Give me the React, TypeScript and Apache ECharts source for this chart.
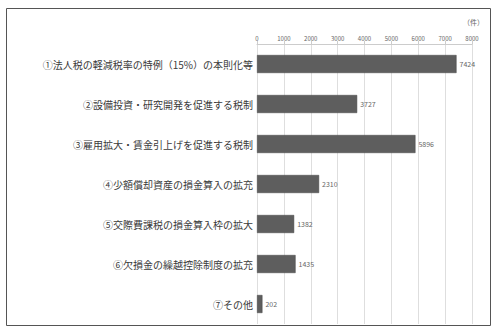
import React, { useEffect, useRef } from "react";
import * as echarts from "echarts";

const categories = [
  "①法人税の軽減税率の特例（15%）の本則化等",
  "②設備投資・研究開発を促進する税制",
  "③雇用拡大・賃金引上げを促進する税制",
  "④少額償却資産の損金算入の拡充",
  "⑤交際費課税の損金算入枠の拡大",
  "⑥欠損金の繰越控除制度の拡充",
  "⑦その他",
];
const values = [7424, 3727, 5896, 2310, 1382, 1435, 202];
const unitLabel = "（件）";

export default function App() {
  const ref = useRef<HTMLDivElement>(null);
  useEffect(() => {
    if (!ref.current) return;
    const chart = echarts.init(ref.current, null, { renderer: "svg" });
    const font = "'Noto Sans CJK JP', sans-serif";
    chart.setOption({
      animation: false,
      backgroundColor: "#ffffff",
      textStyle: { fontFamily: font },
      graphic: [
        {
          type: "rect",
          shape: { x: 6.5, y: 8.5, width: 484, height: 317 },
          style: { fill: "none", stroke: "#555", lineWidth: 1 },
        },
        {
          type: "text",
          left: 463,
          top: 18,
          style: { text: unitLabel, fontSize: 7, fill: "#666", fontFamily: font },
        },
      ],
      grid: { left: 257, top: 44, width: 215, height: 280, containLabel: false },
      xAxis: {
        type: "value",
        position: "top",
        min: 0,
        max: 8000,
        interval: 1000,
        axisLine: { show: true, lineStyle: { color: "#ccc" } },
        axisTick: { show: true, length: 3, lineStyle: { color: "#ccc" } },
        axisLabel: {
          fontSize: 6,
          color: "#666",
          margin: 3,
          formatter: (v: number) => String(v),
        },
        splitLine: { show: true, lineStyle: { color: "#dedede", width: 1 } },
      },
      yAxis: {
        type: "category",
        data: categories,
        inverse: true,
        axisLine: { show: false },
        axisTick: { show: false },
        axisLabel: { fontSize: 10, color: "#3a3a3a", margin: 4 },
      },
      series: [
        {
          type: "bar",
          data: values,
          barCategoryGap: "55%",
          itemStyle: { color: "#5e5e5e", borderColor: "#444", borderWidth: 0.5 },
          label: {
            show: true,
            position: "right",
            fontSize: 7,
            color: "#666",
            distance: 3,
          },
        },
      ],
    });
    return () => chart.dispose();
  }, []);
  return (
    <div
      ref={ref}
      style={{ position: "absolute", left: 0, top: 0, width: 497, height: 329 }}
    />
  );
}
